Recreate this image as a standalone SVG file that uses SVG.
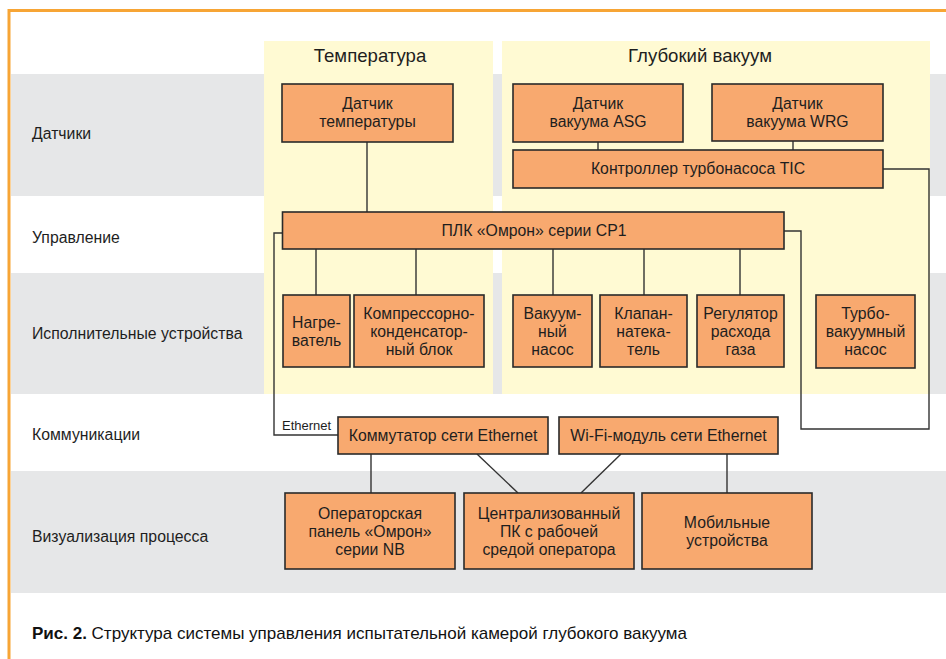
<svg xmlns="http://www.w3.org/2000/svg" width="946" height="659" viewBox="0 0 946 659">
<style>
.bg{fill:#ffffff}
.band{fill:#e6e7e8}
.panel{fill:#fffad3}
.box{fill:#f8a96f;stroke:#2a2a2a;stroke-width:1.6}
.t{font-family:"Liberation Sans",Arial,sans-serif;font-size:15.8px;fill:#1e1e1e;text-anchor:middle}
.lab{font-family:"Liberation Sans",Arial,sans-serif;font-size:15.8px;fill:#1e1e1e}
.hdr{font-family:"Liberation Sans",Arial,sans-serif;font-size:18.6px;fill:#1e1e1e;text-anchor:middle}
.small{font-family:"Liberation Sans",Arial,sans-serif;font-size:13px;fill:#1e1e1e}
.cap{font-family:"Liberation Sans",Arial,sans-serif;font-size:17px;fill:#111}
.ln{fill:none;stroke:#333;stroke-width:1.4}
</style>
<rect class="bg" x="0" y="0" width="946" height="659"/>
<g id="bands">
<rect class="band" x="11" y="74" width="935" height="122"/>
<rect class="band" x="11" y="273" width="935" height="121"/>
<rect class="band" x="11" y="471" width="935" height="122"/>
</g>
<g id="border">
<path d="M9,659 V10.5 H946" fill="none" stroke="#f7a535" stroke-width="3"/>
</g>
<g id="panels">
<rect class="panel" x="264" y="41" width="229" height="353"/>
<rect class="panel" x="502" y="41" width="428" height="353"/>
<text class="hdr" x="370" y="62">Температура</text>
<text class="hdr" x="700" y="62">Глубокий вакуум</text>
</g>
<g id="row-labels">
<text class="lab" x="32" y="139">Датчики</text>
<text class="lab" x="32" y="243">Управление</text>
<text class="lab" x="32" y="339">Исполнительные устройства</text>
<text class="lab" x="32" y="440">Коммуникации</text>
<text class="lab" x="32" y="542">Визуализация процесса</text>
</g>
<g id="connectors">
<path class="ln" d="M367,142 V212"/>
<path class="ln" d="M598,142 V150"/>
<path class="ln" d="M793,141 V150"/>
<path class="ln" d="M282,233 H274 V435 H338"/>
<path class="ln" d="M784,231 H801 V429 H929 V169 H883"/>
<path class="ln" d="M316,249 V295 M416,249 V295 M553,249 V295 M644,249 V295 M740,249 V295"/>
<path class="ln" d="M371,454 V493"/>
<path class="ln" d="M477,454 L518,493"/>
<path class="ln" d="M621,454 L581,493"/>
<path class="ln" d="M727,454 V493"/>
<text class="small" x="282" y="430">Ethernet</text>
</g>
<g id="n-temp"><rect class="box" x="282" y="84" width="171" height="58"/><text class="t" x="367.5" y="109">Датчик</text><text class="t" x="367.5" y="127">температуры</text></g>
<g id="n-asg"><rect class="box" x="513" y="84" width="170" height="58"/><text class="t" x="598" y="109">Датчик</text><text class="t" x="598" y="127">вакуума ASG</text></g>
<g id="n-wrg"><rect class="box" x="712" y="84" width="171" height="57"/><text class="t" x="797.5" y="109">Датчик</text><text class="t" x="797.5" y="127">вакуума WRG</text></g>
<g id="n-tic"><rect class="box" x="513" y="150" width="370" height="38"/><text class="t" x="698" y="174">Контроллер турбонасоса TIC</text></g>
<g id="n-plc"><rect class="box" x="282.5" y="212" width="501.5" height="37"/><text class="t" x="534" y="236">ПЛК «Омрон» серии CP1</text></g>
<g id="n-heater"><rect class="box" x="283" y="295" width="67" height="72"/><text class="t" x="316.5" y="328">Нагре-</text><text class="t" x="316.5" y="346">ватель</text></g>
<g id="n-compr"><rect class="box" x="354" y="295" width="130" height="72"/><text class="t" x="419" y="319">Компрессорно-</text><text class="t" x="419" y="337">конденсатор-</text><text class="t" x="419" y="355">ный блок</text></g>
<g id="n-vpump"><rect class="box" x="513" y="295" width="79" height="72"/><text class="t" x="552.5" y="319">Вакуум-</text><text class="t" x="552.5" y="337">ный</text><text class="t" x="552.5" y="355">насос</text></g>
<g id="n-valve"><rect class="box" x="600" y="295" width="87" height="72"/><text class="t" x="643.5" y="319">Клапан-</text><text class="t" x="643.5" y="337">натека-</text><text class="t" x="643.5" y="355">тель</text></g>
<g id="n-reg"><rect class="box" x="697" y="295" width="87" height="72"/><text class="t" x="740.5" y="319">Регулятор</text><text class="t" x="740.5" y="337">расхода</text><text class="t" x="740.5" y="355">газа</text></g>
<g id="n-turbo"><rect class="box" x="816" y="295" width="99" height="73"/><text class="t" x="865.5" y="319">Турбо-</text><text class="t" x="865.5" y="337">вакуумный</text><text class="t" x="865.5" y="355">насос</text></g>
<g id="n-switch"><rect class="box" x="338" y="417" width="210" height="37"/><text class="t" x="443" y="441">Коммутатор сети Ethernet</text></g>
<g id="n-wifi"><rect class="box" x="559" y="417" width="219" height="37"/><text class="t" x="668.5" y="441">Wi-Fi-модуль сети Ethernet</text></g>
<g id="n-panel"><rect class="box" x="285" y="493" width="170" height="76"/><text class="t" x="370" y="519">Операторская</text><text class="t" x="370" y="537">панель «Омрон»</text><text class="t" x="370" y="555">серии NB</text></g>
<g id="n-pc"><rect class="box" x="464" y="493" width="170" height="76"/><text class="t" x="549" y="519">Централизованный</text><text class="t" x="549" y="537">ПК с рабочей</text><text class="t" x="549" y="555">средой оператора</text></g>
<g id="n-mobile"><rect class="box" x="642" y="493" width="170" height="76"/><text class="t" x="727" y="528">Мобильные</text><text class="t" x="727" y="546">устройства</text></g>
<g id="caption">
<text class="cap" x="32" y="639" textLength="655" lengthAdjust="spacingAndGlyphs"><tspan font-weight="bold">Рис. 2.</tspan> Структура системы управления испытательной камерой глубокого вакуума</text>
</g>
</svg>
